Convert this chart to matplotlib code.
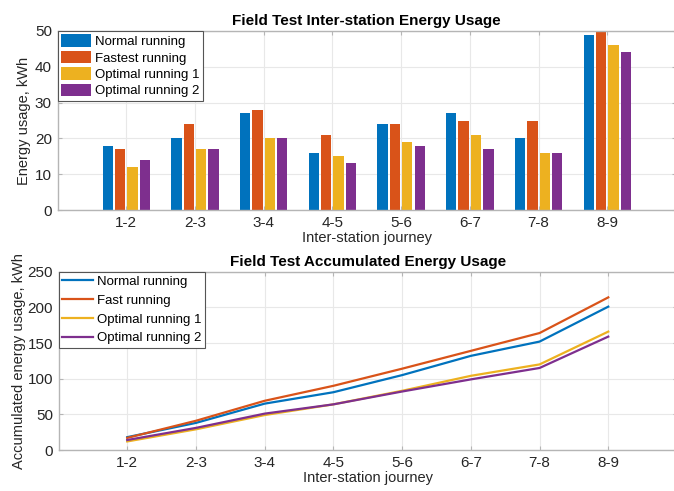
import matplotlib
matplotlib.use("Agg")
import matplotlib.pyplot as plt
import numpy as np

journeys = ["1-2", "2-3", "3-4", "4-5", "5-6", "6-7", "7-8", "8-9"]

bar_labels = ["Normal running", "Fastest running", "Optimal running 1", "Optimal running 2"]
normal = [18, 20, 27, 16, 24, 27, 20, 49]
fastest = [17, 24, 28, 21, 24, 25, 25, 50]
optimal1 = [12, 17, 20, 15, 19, 21, 16, 46]
optimal2 = [14, 17, 20, 13, 18, 17, 16, 44]

line_labels = ["Normal running", "Fast running", "Optimal running 1", "Optimal running 2"]
acc_normal = [18, 38, 65, 81, 105, 132, 152, 201]
acc_fast = [17, 41, 69, 90, 114, 139, 164, 214]
acc_opt1 = [12, 29, 49, 64, 83, 104, 120, 166]
acc_opt2 = [14, 31, 51, 64, 82, 99, 115, 159]

colors = ["#0072BD", "#D95319", "#EDB120", "#7E2F8E"]

plt.rcParams['font.family'] = ['Liberation Sans', 'DejaVu Sans']
tick_col = "#262626"

fig = plt.figure(figsize=(6.74, 4.91), dpi=100)
W, H = 674, 491

def style(ax, yticks, ylim):
    ax.set_xlim(0, 9)
    ax.set_ylim(*ylim)
    ax.set_yticks(yticks)
    ax.set_xticks(np.arange(1, 9))
    ax.set_xticklabels(journeys)
    ax.grid(True, color="#e8e8e8", linewidth=0.8)
    ax.set_axisbelow(True)
    for s in ax.spines.values():
        s.set_color("#b5b5b5")
        s.set_linewidth(1.0)
    ax.tick_params(direction="in", length=3, color="#b5b5b5", labelsize=11,
                   labelcolor=tick_col, top=True, right=True, pad=4)

# Top: bars
ax1 = fig.add_axes([57.5 / W, 1 - 210 / H, (676 - 57.5) / W, 179 / H])
x = np.arange(1, 9)
series = [normal, fastest, optimal1, optimal2]
offsets = [-0.27, -0.09, 0.09, 0.27]
for vals, off, c, lab in zip(series, offsets, colors, bar_labels):
    ax1.bar(x + off, vals, width=0.15, color=c, label=lab, edgecolor="none")
style(ax1, [0, 10, 20, 30, 40, 50], (0, 50))
ax1.set_title("Field Test Inter-station Energy Usage", fontsize=11, fontweight="bold", pad=4)
ax1.set_xlabel("Inter-station journey", fontsize=10.5, color=tick_col, labelpad=1)
ax1.set_ylabel("Energy usage, kWh", fontsize=10.5, color=tick_col, labelpad=3)
leg1 = ax1.legend(loc="upper left", bbox_to_anchor=(0, 1), borderaxespad=0, fontsize=9.5,
                  handlelength=2.3, handleheight=1.1, labelspacing=0.2, handletextpad=0.3,
                  borderpad=0.25, fancybox=False, framealpha=1)
leg1.get_frame().set_edgecolor("#555555")
leg1.get_frame().set_linewidth(0.8)

# Bottom: lines
ax2 = fig.add_axes([58.5 / W, 1 - 450 / H, (677 - 58.5) / W, 178.3 / H])
lseries = [acc_normal, acc_fast, acc_opt1, acc_opt2]
for vals, c, lab in zip(lseries, colors, line_labels):
    ax2.plot(x, vals, color=c, linewidth=1.6, label=lab)
style(ax2, [0, 50, 100, 150, 200, 250], (0, 250))
ax2.set_title("Field Test Accumulated Energy Usage", fontsize=11, fontweight="bold", pad=4)
ax2.set_xlabel("Inter-station journey", fontsize=10.5, color=tick_col, labelpad=1)
ax2.set_ylabel("Accumulated energy usage, kWh", fontsize=10.5, color=tick_col, labelpad=1)
leg2 = ax2.legend(loc="upper left", bbox_to_anchor=(0, 1), borderaxespad=0, fontsize=9.5,
                  handlelength=2.3, labelspacing=0.5, handletextpad=0.3,
                  borderpad=0.3, fancybox=False, framealpha=1)
leg2.get_frame().set_edgecolor("#555555")
leg2.get_frame().set_linewidth(0.8)

fig.savefig("out.png", dpi=100)
